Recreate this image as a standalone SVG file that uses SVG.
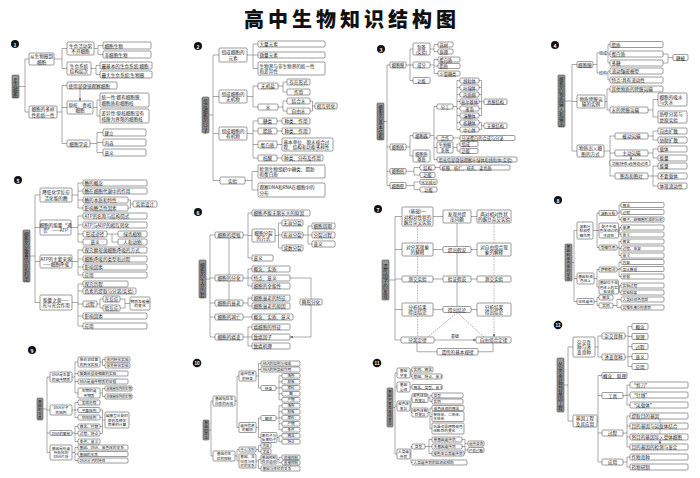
<svg xmlns="http://www.w3.org/2000/svg" width="700" height="478" viewBox="0 0 700 478">
<style>
text{font-family:"Noto Sans CJK SC","Noto Sans",sans-serif;font-size:4.6px;fill:#222;dominant-baseline:central;text-anchor:middle}
.n rect{fill:#fff;stroke:#4a4a4a;stroke-width:.55;rx:1.1px}
.L text{text-anchor:start}
.r rect{fill:#979797;stroke:#444;stroke-width:.55;rx:1px}
.r text{font-size:4.8px;fill:#151515}
.s3 text{font-size:4.2px}
.s8 text,.s9 text,.s11 text{font-size:3.7px}
.s10 text{font-size:3.6px}
#links path{fill:none;stroke:#555;stroke-width:.5}
#links .dot{stroke-dasharray:.8 .8}
#links .dash{stroke-dasharray:1.5 1}
.title{font-size:20px;font-weight:900;letter-spacing:4px;fill:#111}
.num circle{fill:#111}
.num text{fill:#fff;font-size:5px;font-weight:700}
.lab{font-size:4px}
</style>
<defs>
<marker id="ah" viewBox="0 0 6 6" refX="5.5" refY="3" markerWidth="2.6" markerHeight="2.6" markerUnits="userSpaceOnUse" orient="auto"><path d="M0 0L6 3L0 6z" fill="#555"/></marker>
</defs>
<rect width="700" height="478" fill="#fff"/>
<text class="title" x="352" y="18">高中生物知识结构图</text>

<g class="num">
<g id="num1"><circle cx="15" cy="44" r="4"/><text x="15" y="44">1</text></g>
<g id="num2"><circle cx="198" cy="46" r="4"/><text x="198" y="46">2</text></g>
<g id="num3"><circle cx="381" cy="49" r="4"/><text x="381" y="49">3</text></g>
<g id="num4"><circle cx="555" cy="45" r="4"/><text x="555" y="45">4</text></g>
<g id="num5"><circle cx="18" cy="180" r="4"/><text x="18" y="180">5</text></g>
<g id="num6"><circle cx="198" cy="212" r="4"/><text x="198" y="212">6</text></g>
<g id="num7"><circle cx="378" cy="209" r="4"/><text x="378" y="209">7</text></g>
<g id="num8"><circle cx="558" cy="200" r="4"/><text x="558" y="200">8</text></g>
<g id="num9"><circle cx="32" cy="350" r="4"/><text x="32" y="350">9</text></g>
<g id="num10"><circle cx="197" cy="363" r="4.3"/><text x="197" y="363" style="font-size:4.3px">10</text></g>
<g id="num11"><circle cx="377" cy="363" r="4.3"/><text x="377" y="363" style="font-size:4.3px">11</text></g>
<g id="num12"><circle cx="558" cy="325" r="4.3"/><text x="558" y="325" style="font-size:4.3px">12</text></g>
</g>

<g id="links">
<path d="M19 86.5H25M25 59V112M25 59H29M25 112H29M54 59H62M62 48.5V68.5M62 48.5H67M62 68.5H67M94 48.5H98M98 45.5V54.5M98 45.5H103M98 54.5H103M91 68.5H96M96 65.5V74.5M96 65.5H100M96 74.5H100M57 112H62M62 85.5V143.5M62 85.5H67M62 107.5H67M62 143.5H67M93 107.5H97M97 100V116M97 100H100M97 116H100M90 143.5H97M97 132.5V152.5M97 132.5H103M97 142.5H103M97 152.5H103"/>
<path d="M80 89V100.7" marker-end="url(#ah)"/>
<path d="M209 115H213M213 55V180.5M213 55H219M213 96.5H219M213 133.5H219M213 180.5H220M247 55H253M253 44V68.5M253 44H258M253 55H258M253 68.5H258M247 96.5H253M253 86V107M253 86H258M253 107H258M278 86H283M283 82V92M283 82H287M283 92H287M278 107H283M283 101V111M283 101H287M283 111H287M310 101H312.5M310 111H312.5M312.5 101V111M312.5 106H315M247 133.5H253M253 121V158M253 121H258M253 131H258M253 144.5H258M253 158H258M277 121H282M277 131H282M277 144.5H282M277 158H282M245 180.5H252M252 171.5V190M252 171.5H258M252 190H258"/>
<path d="M384 121.5H387M387 65V185.5M387 65H390M387 147H390M387 171.25H390M387 185.5H390M406 65H410M410 49V80.5M410 49H413M410 65H413M410 80.5H413M430 49H434M434 44.5V51.5M434 44.5H438M434 51.5H438M430 65H434M434 59.5V73.5M434 59.5H438M434 66H438M434 73.5H438M406 147H410M410 135.5V156M410 135.5H413M410 156H413M430 135.5H434M434 106.5V159.5M434 106.5H437M434 138H437M434 147.5H437M434 159.5H437M453 106.5H457M457 80.5V129.5M457 80.5H460M457 87.5H460M457 94.5H460M457 101.5H460M457 108.5H460M457 115.5H460M457 122.5H460M457 129.5H460M479 80.5H481.5M479 87.5H481.5M479 94.5H481.5M479 101.5H481.5M479 108.5H481.5M479 115.5H481.5M481.5 80.5V115.5M481.5 101.75H484M479 122.5H481.5M479 129.5H481.5M481.5 122.5V129.5M481.5 125.75H484M453 138H460M453 147.5H457M457 144V151M457 144H460M457 151H460M406 171.25H414M414 167.5V175M414 167.5H420M414 175H420M435 167.5H440M406 185.5H414M414 182V189.5M414 182H420M414 189.5H420"/>
<path d="M565 101H572M572 64.5V151M572 64.5H577M572 101.5H577M572 151H577M593 64.5H597M597 52.8V73M597 52.8H599M597 73H599M607 52.8H608M608 44.5V63M608 44.5H610M608 54H610M608 63H610M607 73H608M608 71V80M608 71H610M608 80H610M663 54H668M663 63H668M668 54V63M668 57.5H673M605 101.5H607M607 89V110M607 89H610M607 110H610M648 110H653M653 99.5V117M653 99.5H658M653 117H658M604 151H610M610 136V176M610 136H615M610 153H615M610 176H615M648 136H653M653 131V140M653 131H658M653 140H658M648 153H653M653 149V158M653 149H658M653 158H658M648 176H653M653 166V186M653 166H658M653 176H658M653 186H658"/>
<path d="M631 156V159.8" marker-end="url(#ah)"/>
<path d="M30 256H35M35 195V302.5M35 195H40M35 227.5H40M35 261.5H40M35 302.5H40M72 195H78M78 183V208M78 183H83M78 191H83M78 200H83M78 208H83M128 200H130.5M128 208H130.5M130.5 200V208M130.5 204H133M71 227.5H78M78 216V242M78 216H83M78 225H83M78 234H83M78 242H83M107 234H112M112 234V242M112 234H118M112 242H118M72 261.5H78M78 250V275M78 250H83M78 259H83M78 267H83M78 275H83M72 302.5H78M78 284V326M78 284H83M78 291H83M78 304H83M78 316H83M78 326H83M97 304H100M100 299V308M100 299H103M100 308H103M120 299H125M120 308H125M125 299V308M125 303.5H130"/>
<path d="M206 279H210M210 235V337M210 235H215M210 278H215M210 303H215M210 317H215M210 337H215M243 235H248M248 213V258M248 213H252M248 235.5H252M248 258H252M275 235.5H278.5M278.5 223V248M278.5 223H282M278.5 235H282M278.5 248H282M303 235H308M308 226V244M308 226H312M308 235H312M308 244H312M243 278H248M248 269V286M248 269H252M248 278H252M248 286H252M243 303H248M248 298V306M248 298H252M248 306H252M243 317H252M243 337H248M248 327V346M248 327H252M248 337H252M248 346H252M290 278H311V299"/>
<path d="M229 238V274.8M229 281V299.8M311 305V337H290.4" marker-end="url(#ah)"/>
<path d="M389 280H395M395 216.5V340M395 216.5H402M395 249.5H402M395 279H402M395 309.5H402M395 340H401M433 216.5H443M471 216.5H477M433 249.5H443M471 249.5H477M433 279H443M471 279H477M433 309.5H443M471 309.5H477M417 343V351.75H437M493 343V351.75H478"/>
<path d="M457 223V246.2M457 252.5V275.7M457 282V306.2M434 340H475.7" marker-end="url(#ah)"/>
<path class="dot" d="M417.5 226V242.7M417.5 256V275.7M417.5 282V302.7M417.5 316V336.7M494 223V242.7M494 256V275.7M494 282V302.7M494 316V336.7" marker-end="url(#ah)"/>
<path class="dash" d="M457 312.5L428 337M457 312.5L484 337"/>
<path d="M572 262.5H574M574 230.5V301.5M574 230.5H577M574 278.5H577M574 301.5H577M593 230.5H597M597 213V247.5M597 213H599M597 230.5H599M597 247.5H599M617 213H619M619 205V219.5M619 205H621M619 212H621M619 219.5H621M618.5 230.5H619.5M619.5 227.5V234.5M619.5 227.5H621M619.5 234.5H621M617 247.5H619M619 241.5V255.5M619 241.5H621M619 248.5H621M619 255.5H621M594 278.5H597M597 269.5V287M597 269.5H599M597 287H599M617 269.5H619M619 262V276.5M619 262H621M619 269H621M619 276.5H621M618.5 287H619.5M619.5 285.5V292.5M619.5 285.5H621M619.5 292.5H621M594 301.5H597M597 297.5V305.5M597 297.5H599M597 305.5H599M613 305.5H617M617 299.5V307.5M617 299.5H621M617 307.5H621"/>
<path d="M43 409H47M47 377V452.5M47 377H50M47 410H50M47 433H50M47 452.5H50M72 377H75M75 362V393M75 362H78M75 373.5H78M75 381.5H78M75 393H78M100 362H102.5M102.5 359.5V365.5M102.5 359.5H105M102.5 365.5H105M100 393H102.5M102.5 388.5V396.5M102.5 388.5H105M102.5 396.5H105M72 410H75M75 402.5V417.5M75 402.5H78M75 410H78M75 417.5H78M100 410H102.5M100 417.5H102.5M100 426.5H102.5M100 433.5H102.5M102.5 410V433.5M102.5 420H105M72 433H75M75 426.5V441.5M75 426.5H78M75 433.5H78M75 441.5H78M72 452.5H75M75 447.5V460.5M75 447.5H78M75 454H78M75 460.5H78"/>
<path d="M209 430H211M211 401V456M211 401H213M211 456H213M235 401H237M237 376V427.5M237 376H239M237 427.5H239M256 376H258.5M258.5 363.5V388M258.5 363.5H261M258.5 369.5H261M258.5 388H261M276 388H279M279 375.75V399.75M279 375.75H282M279 381.75H282M279 387.75H282M279 393.75H282M279 399.75H282M256 427.5H258.5M258.5 418V437.5M258.5 418H261M258.5 437.5H261M276 418H279M279 405.75V429.75M279 405.75H282M279 411.75H282M279 417.75H282M279 423.75H282M279 429.75H282M277 437.5H279M279 435.75V441.75M279 435.75H282M279 441.75H282M235 456H237M237 449.5V461M237 449.5H239M237 461H239M256 449.5H258.5M258.5 445.5V451.5M258.5 445.5H261M258.5 451.5H261M256 461H258.5M258.5 459.5V468.5M258.5 459.5H261M258.5 468.5H261M277 459.5H279M279 457.25V462.75M279 457.25H282M279 462.75H282"/>
<path d="M393 407.5H395M395 373V454M395 373H397M395 387H397M395 406H397M395 454H397M410 373H411M411 369.5V376.5M411 369.5H412M411 376.5H412M410 387H412M410 406H411M411 398V412.5M411 398H412M411 412.5H412M428 398H430M430 395.5V401.5M430 395.5H432M430 401.5H432M428 412.5H430M430 408V428.5M430 408H432M430 416.5H432M430 428.5H432M410 454H411M411 446.5V462.5M411 446.5H412M411 462.5H412M425 446.5H429M429 439.5V453.5M429 439.5H432M429 446.5H432M429 453.5H432M462 439.5H465M462 446.5H465M464 453.5H465M465 439.5V453.5M465 443.5H468M465 450H468"/>
<path d="M564 385H568M568 347V421M568 347H573M568 421H573M595 347H598M598 336V357M598 336H602M598 357H602M625 336H628M625 357H628M628 326.5V366.5M628 326.5H632M628 336.5H632M628 346.5H632M628 356.5H632M628 366.5H632M597 421H598M598 375.5V462M598 375.5H602M598 395.5H602M598 433H602M598 462H602M623 395.5H627M627 385V405M627 385H630M627 395H630M627 405H630M623 433H627M627 416V447M627 416H630M627 426H630M627 437H630M627 447H630M623 462H627M627 457V467M627 457H630M627 467H630"/>
<path d="M660 419V422.8M660 429V433.8M660 440V443.8" marker-end="url(#ah)"/>
</g>

<g id="sec1">
<g id="s1-root" class="r"><rect x="12" y="75" width="7" height="23"/><text x="15.5 15.5 15.5 15.5" y="79 84 89 94">走近细胞</text></g>
<g id="s1-a" class="n" transform="translate(29 53)"><rect width="25" height="12"/><text x="12.5" y="3.4">从生物圈到</text><text x="12.5" y="8.6">细胞</text></g>
<g id="s1-b" class="n" transform="translate(29 106)"><rect width="28" height="12"/><text x="14" y="3.4">细胞的多样</text><text x="14" y="8.6">性和统一性</text></g>
<g id="s1-a1" class="n" transform="translate(67 42)"><rect width="27" height="13"/><text x="13.5" y="3.9">生命活动离</text><text x="13.5" y="9.1">不开细胞</text></g>
<g id="s1-a2" class="n" transform="translate(67 62)"><rect width="24" height="13"/><text x="12" y="3.9">生命系统</text><text x="12" y="9.1">结构层次</text></g>
<g id="s1-a1a" class="n L" transform="translate(103 42)"><rect width="48" height="7"/><text x="1.5" y="3.5">细胞生物</text></g>
<g id="s1-a1b" class="n L" transform="translate(103 51)"><rect width="48" height="7"/><text x="1.5" y="3.5">非细胞生物</text></g>
<g id="s1-a2a" class="n L" transform="translate(100 62)"><rect width="52" height="7"/><text x="1.5" y="3.5">最基本的生命系统:细胞</text></g>
<g id="s1-a2b" class="n L" transform="translate(100 71)"><rect width="52" height="7"/><text x="1.5" y="3.5">最大生命系统:生物圈</text></g>
<g id="s1-b1" class="n L" transform="translate(67 82)"><rect width="50" height="7"/><text x="1.5" y="3.5">使用显微镜观察细胞</text></g>
<g id="s1-b2" class="n" transform="translate(67 101)"><rect width="26" height="13"/><text x="13" y="3.9">原核、真核</text><text x="13" y="9.1">细胞</text></g>
<g id="s1-b2a" class="n L" transform="translate(100 93)"><rect width="49" height="14"/><text x="1.5" y="4.4">统一性:都有细胞膜、</text><text x="1.5" y="9.6">细胞质和细胞核</text></g>
<g id="s1-b2b" class="n L" transform="translate(100 109)"><rect width="49" height="14"/><text x="1.5" y="4.4">差异性:原核细胞没有</text><text x="1.5" y="9.6">核膜为界限的细胞核</text></g>
<g id="s1-b3" class="n" transform="translate(67 140)"><rect width="23" height="7"/><text x="11.5" y="3.5">细胞学说</text></g>
<g id="s1-b3a" class="n L" transform="translate(103 129)"><rect width="43" height="7"/><text x="1.5" y="3.5">建立</text></g>
<g id="s1-b3b" class="n L" transform="translate(103 139)"><rect width="43" height="7"/><text x="1.5" y="3.5">内容</text></g>
<g id="s1-b3c" class="n L" transform="translate(103 149)"><rect width="43" height="7"/><text x="1.5" y="3.5">意义</text></g>
</g>

<g id="sec2">
<g id="s2-root" class="r"><rect x="202" y="97" width="7" height="36"/><text x="205.5 205.5 205.5 205.5 205.5 205.5 205.5" y="100 105 110 115 120 125 130">组成细胞的分子</text></g>
<g id="s2-e" class="n" transform="translate(219 48)"><rect width="28" height="14"/><text x="14" y="4.4">组成细胞的</text><text x="14" y="9.6">元素</text></g>
<g id="s2-w" class="n" transform="translate(219 90)"><rect width="28" height="13"/><text x="14" y="3.9">组成细胞的</text><text x="14" y="9.1">无机物</text></g>
<g id="s2-o" class="n" transform="translate(219 127)"><rect width="28" height="13"/><text x="14" y="3.9">组成细胞的</text><text x="14" y="9.1">有机物</text></g>
<g id="s2-x" class="n" transform="translate(220 177)"><rect width="25" height="7"/><text x="12.5" y="3.5">实验</text></g>
<g id="s2-e1" class="n L" transform="translate(258 41)"><rect width="67" height="6"/><text x="1.5" y="3">大量元素</text></g>
<g id="s2-e2" class="n L" transform="translate(258 52)"><rect width="67" height="6"/><text x="1.5" y="3">微量元素</text></g>
<g id="s2-e3" class="n L" transform="translate(258 62)"><rect width="67" height="13"/><text x="1.5" y="3.9">生物界与非生物界的统一性</text><text x="1.5" y="9.1">和差异性</text></g>
<g id="s2-w1" class="n" transform="translate(258 83)"><rect width="20" height="6"/><text x="10" y="3">无机盐</text></g>
<g id="s2-w2" class="n" transform="translate(258 104)"><rect width="20" height="6"/><text x="10" y="3">水</text></g>
<g id="s2-w1a" class="n" transform="translate(287 79)"><rect width="23" height="6"/><text x="11.5" y="3">存在形式</text></g>
<g id="s2-w1b" class="n" transform="translate(287 89)"><rect width="23" height="6"/><text x="11.5" y="3">作用</text></g>
<g id="s2-w2a" class="n" transform="translate(287 98)"><rect width="23" height="6"/><text x="11.5" y="3">结合水</text></g>
<g id="s2-w2b" class="n" transform="translate(287 108)"><rect width="23" height="6"/><text x="11.5" y="3">自由水</text></g>
<g id="s2-w3" class="n" transform="translate(315 103)"><rect width="22" height="6"/><text x="11" y="3">相互转化</text></g>
<g id="s2-o1" class="n" transform="translate(258 118)"><rect width="19" height="6"/><text x="9.5" y="3">糖类</text></g>
<g id="s2-o1a" class="n" transform="translate(282 118)"><rect width="28" height="6"/><text x="14" y="3">种类、作用</text></g>
<g id="s2-o2" class="n" transform="translate(258 128)"><rect width="19" height="6"/><text x="9.5" y="3">脂质</text></g>
<g id="s2-o2a" class="n" transform="translate(282 128)"><rect width="28" height="6"/><text x="14" y="3">种类、作用</text></g>
<g id="s2-o3" class="n" transform="translate(258 141)"><rect width="19" height="7"/><text x="9.5" y="3.5">蛋白质</text></g>
<g id="s2-o3a" class="n L" transform="translate(282 138)"><rect width="51" height="13"/><text x="1.5" y="3.9">基本单位、脱水缩合过</text><text x="1.5" y="9.1">程、结构和功能多样性</text></g>
<g id="s2-o4" class="n" transform="translate(258 155)"><rect width="19" height="6"/><text x="9.5" y="3">核酸</text></g>
<g id="s2-o4a" class="n" transform="translate(282 155)"><rect width="41" height="6"/><text x="20.5" y="3">种类、分布及作用</text></g>
<g id="s2-x1" class="n L" transform="translate(258 165)"><rect width="67" height="13"/><text x="1.5" y="3.9">检测生物组织中糖类、脂肪</text><text x="1.5" y="9.1">和蛋白质</text></g>
<g id="s2-x2" class="n L" transform="translate(258 183)"><rect width="67" height="14"/><text x="1.5" y="4.4">观察DNA和RNA在细胞中的</text><text x="1.5" y="9.6">分布</text></g>
</g>

<g id="sec3" class="s3">
<g id="s3-root" class="r"><rect x="377" y="103" width="7" height="37"/><text x="380.5 380.5 380.5 380.5 380.5 380.5 380.5" y="106.5 111.5 116.5 121.5 126.5 131.5 136.5">细胞的基本结构</text></g>
<g id="s3-m" class="n" transform="translate(390 62)"><rect width="16" height="6"/><text x="8" y="3">细胞膜</text></g>
<g id="s3-c" class="n" transform="translate(390 144)"><rect width="16" height="6"/><text x="8" y="3">细胞质</text></g>
<g id="s3-n" class="n" transform="translate(390 168.5)"><rect width="16" height="5.5"/><text x="8" y="2.75">细胞核</text></g>
<g id="s3-wl" class="n" transform="translate(390 182.5)"><rect width="16" height="6"/><text x="8" y="3">细胞壁</text></g>
<g id="s3-m1" class="n" transform="translate(413 43)"><rect width="17" height="12"/><text x="8.5" y="3.5">制备</text><text x="8.5" y="8.5">(实验)</text></g>
<g id="s3-m2" class="n" transform="translate(413 62)"><rect width="17" height="6"/><text x="8.5" y="3">成分</text></g>
<g id="s3-m3" class="n" transform="translate(413 77.5)"><rect width="17" height="6"/><text x="8.5" y="3">功能</text></g>
<g id="s3-m1a" class="n L" transform="translate(438 42)"><rect width="15" height="5"/><text x="1.5" y="2.5">选材</text></g>
<g id="s3-m1b" class="n L" transform="translate(438 49)"><rect width="15" height="5"/><text x="1.5" y="2.5">原理</text></g>
<g id="s3-m2a" class="n L" transform="translate(438 57)"><rect width="22" height="5"/><text x="1.5" y="2.5">蛋白质</text></g>
<g id="s3-m2b" class="n L" transform="translate(438 63.5)"><rect width="22" height="5"/><text x="1.5" y="2.5">脂质</text></g>
<g id="s3-m2c" class="n L" transform="translate(438 71)"><rect width="22" height="5"/><text x="1.5" y="2.5">少量糖类</text></g>
<g id="s3-c1" class="n" transform="translate(413 133)"><rect width="17" height="5"/><text x="8.5" y="2.5">细胞器</text></g>
<g id="s3-c2" class="n" transform="translate(413 150)"><rect width="17" height="12"/><text x="8.5" y="3.5">细胞质</text><text x="8.5" y="8.5">基质</text></g>
<g id="s3-d1" class="n" transform="translate(437 104)"><rect width="16" height="5"/><text x="8" y="2.5">分工</text></g>
<g id="s3-d2" class="n" transform="translate(437 135.5)"><rect width="16" height="5"/><text x="8" y="2.5">合作</text></g>
<g id="s3-d3" class="n" transform="translate(437 142)"><rect width="16" height="11"/><text x="8" y="3">生物膜</text><text x="8" y="8">系统</text></g>
<g id="s3-d4" class="n L" transform="translate(437 157)"><rect width="80" height="5"/><text x="1.5" y="2.5">用高倍显微镜观察叶绿体和线粒体(实验)</text></g>
<g id="s3-o1" class="n" transform="translate(460 78)"><rect width="19" height="5"/><text x="9.5" y="2.5">线粒体</text></g>
<g id="s3-o2" class="n" transform="translate(460 85)"><rect width="19" height="5"/><text x="9.5" y="2.5">叶绿体</text></g>
<g id="s3-o3" class="n" transform="translate(460 92)"><rect width="19" height="5"/><text x="9.5" y="2.5">内质网</text></g>
<g id="s3-o4" class="n" transform="translate(460 99)"><rect width="19" height="5"/><text x="9.5" y="2.5">高尔基体</text></g>
<g id="s3-o5" class="n" transform="translate(460 106)"><rect width="19" height="5"/><text x="9.5" y="2.5">液泡</text></g>
<g id="s3-o6" class="n" transform="translate(460 113)"><rect width="19" height="5"/><text x="9.5" y="2.5">溶酶体</text></g>
<g id="s3-o7" class="n" transform="translate(460 120)"><rect width="19" height="5"/><text x="9.5" y="2.5">核糖体</text></g>
<g id="s3-o8" class="n" transform="translate(460 127)"><rect width="19" height="5"/><text x="9.5" y="2.5">中心体</text></g>
<g id="s3-mem" class="n" transform="translate(484 99)"><rect width="23" height="5.5"/><text x="11.5" y="2.75">具膜结构</text></g>
<g id="s3-nom" class="n" transform="translate(484 123)"><rect width="23" height="5.5"/><text x="11.5" y="2.75">无膜结构</text></g>
<g id="s3-d2a" class="n L" transform="translate(460 135.5)"><rect width="55" height="5"/><text x="1.5" y="2.5">分泌蛋白的合成与分泌</text></g>
<g id="s3-d3a" class="n L" transform="translate(460 141.5)"><rect width="18" height="5"/><text x="1.5" y="2.5">组成</text></g>
<g id="s3-d3b" class="n L" transform="translate(460 148.5)"><rect width="18" height="5"/><text x="1.5" y="2.5">功能</text></g>
<g id="s3-n1" class="n" transform="translate(420 165)"><rect width="15" height="5"/><text x="7.5" y="2.5">结构</text></g>
<g id="s3-n2" class="n" transform="translate(420 172.5)"><rect width="15" height="5"/><text x="7.5" y="2.5">功能</text></g>
<g id="s3-n1a" class="n L" transform="translate(440 165)"><rect width="70" height="5"/><text x="1.5" y="2.5">核膜、核仁、核孔、染色质</text></g>
<g id="s3-w1" class="n" transform="translate(420 179.5)"><rect width="17" height="5"/><text x="8.5" y="2.5" style="font-size:3.8px">化学成分</text></g>
<g id="s3-w2" class="n" transform="translate(420 187)"><rect width="17" height="5"/><text x="8.5" y="2.5">功能</text></g>
</g>

<g id="sec4">
<g id="s4-root" class="r"><rect x="558" y="75" width="7" height="52"/><text x="561.5 561.5 561.5 561.5 561.5 561.5 561.5 561.5 561.5 561.5" y="78.5 83.5 88.5 93.5 98.5 103.5 108.5 113.5 118.5 123.5">细胞的物质输入和输出</text></g>
<g id="s4-p" class="n" transform="translate(577 61.5)"><rect width="16" height="6"/><text x="8" y="3">细胞膜</text></g>
<g id="s4-q" class="n" transform="translate(577 95)"><rect width="28" height="13"/><text x="14" y="3.9">物质跨膜运</text><text x="14" y="9.1">输的实例</text></g>
<g id="s4-s" class="n" transform="translate(577 145)"><rect width="27" height="12"/><text x="13.5" y="3.4">物质出入细</text><text x="13.5" y="8.6">胞的方式</text></g>
<g id="s4-labels"><text class="lab" x="603" y="52.8">组成</text><text class="lab" x="603" y="73">结构</text></g>
<g id="s4-p1" class="n L" transform="translate(610 41.5)"><rect width="53" height="6"/><text x="1.5" y="3">脂质</text></g>
<g id="s4-p2" class="n L" transform="translate(610 51)"><rect width="53" height="6"/><text x="1.5" y="3">蛋白质</text></g>
<g id="s4-p3" class="n L" transform="translate(610 60)"><rect width="53" height="6"/><text x="1.5" y="3">多糖</text></g>
<g id="s4-p4" class="n L" transform="translate(610 68)"><rect width="53" height="6"/><text x="1.5" y="3">流动镶嵌模型</text></g>
<g id="s4-p5" class="n L" transform="translate(610 77)"><rect width="53" height="6"/><text x="1.5" y="3">特点:具有流动性</text></g>
<g id="s4-gly" class="n" transform="translate(673 54.5)"><rect width="15" height="6"/><text x="7.5" y="3">糖被</text></g>
<g id="s4-q1" class="n L" transform="translate(610 86)"><rect width="53" height="6"/><text x="1.5" y="3">其他物质的跨膜运输</text></g>
<g id="s4-q2" class="n L" transform="translate(610 107)"><rect width="38" height="6"/><text x="1.5" y="3">水的跨膜运输</text></g>
<g id="s4-q2a" class="n L" transform="translate(658 93)"><rect width="29" height="13"/><text x="1.5" y="3.9">细胞的吸水</text><text x="1.5" y="9.1">与失水</text></g>
<g id="s4-q2b" class="n L" transform="translate(658 111)"><rect width="29" height="12"/><text x="1.5" y="3.4">质壁分离与</text><text x="1.5" y="8.6">复原实验</text></g>
<g id="s4-s1" class="n" transform="translate(615 133)"><rect width="33" height="6"/><text x="16.5" y="3">被动运输</text></g>
<g id="s4-s2" class="n" transform="translate(615 150)"><rect width="33" height="6"/><text x="16.5" y="3">主动运输</text></g>
<g id="s4-s3" class="n" transform="translate(610 160)"><rect width="40" height="6"/><text x="20" y="3" style="font-size:3.9px">功能特性:选择透过性</text></g>
<g id="s4-s4" class="n" transform="translate(615 173)"><rect width="33" height="6"/><text x="16.5" y="3">胞吞和胞吐</text></g>
<g id="s4-s1a" class="n L" transform="translate(658 128)"><rect width="29" height="6"/><text x="1.5" y="3">自由扩散</text></g>
<g id="s4-s1b" class="n L" transform="translate(658 137)"><rect width="29" height="6"/><text x="1.5" y="3">协助扩散</text></g>
<g id="s4-s2a" class="n L" transform="translate(658 146)"><rect width="29" height="6"/><text x="1.5" y="3">载体</text></g>
<g id="s4-s2b" class="n L" transform="translate(658 155)"><rect width="29" height="6"/><text x="1.5" y="3">能量</text></g>
<g id="s4-s4a" class="n L" transform="translate(658 163)"><rect width="29" height="6"/><text x="1.5" y="3">能量</text></g>
<g id="s4-s4b" class="n L" transform="translate(658 173)"><rect width="29" height="6"/><text x="1.5" y="3">不要载体</text></g>
<g id="s4-s4c" class="n L" transform="translate(658 183)"><rect width="29" height="6"/><text x="1.5" y="3">体现流动性</text></g>
</g>

<g id="sec5">
<g id="s5-root" class="r"><rect x="23" y="230" width="7" height="52"/><text x="26.5 26.5 26.5 26.5 26.5 26.5 26.5 26.5 26.5 26.5" y="233.5 238.5 243.5 248.5 253.5 258.5 263.5 268.5 273.5 278.5">细胞的能量供应和利用</text></g>
<g id="s5-A" class="n" transform="translate(40 188)"><rect width="32" height="14"/><text x="16" y="4.4">降低化学反应</text><text x="16" y="9.6">活化能的酶</text></g>
<g id="s5-B" class="n" transform="translate(40 220)"><rect width="31" height="15"/><text x="15.5" y="4.9">细胞的能量“通</text><text x="15.5" y="10.1">货”——ATP</text></g>
<g id="s5-C" class="n" transform="translate(40 255)"><rect width="32" height="13"/><text x="16" y="3.9">ATP的主要来源</text><text x="16" y="9.1">——细胞呼吸</text></g>
<g id="s5-D" class="n" transform="translate(40 295)"><rect width="32" height="15"/><text x="16" y="4.9">能量之源——</text><text x="16" y="10.1">光与光合作用</text></g>
<g id="s5-A1" class="n L" transform="translate(83 180)"><rect width="64" height="6"/><text x="1.5" y="3">酶的概念</text></g>
<g id="s5-A2" class="n L" transform="translate(83 188)"><rect width="64" height="6"/><text x="1.5" y="3">酶在细胞代谢中的作用</text></g>
<g id="s5-A3" class="n L" transform="translate(83 197)"><rect width="45" height="6"/><text x="1.5" y="3">酶的本质和特性</text></g>
<g id="s5-A4" class="n L" transform="translate(83 205)"><rect width="45" height="6"/><text x="1.5" y="3">影响酶活性因素</text></g>
<g id="s5-A5" class="n" transform="translate(133 201)"><rect width="24" height="6"/><text x="12" y="3">实验设计</text></g>
<g id="s5-B1" class="n L" transform="translate(83 213)"><rect width="64" height="6"/><text x="1.5" y="3">ATP的名称与结构简式</text></g>
<g id="s5-B2" class="n L" transform="translate(83 222)"><rect width="64" height="6"/><text x="1.5" y="3">ATP与ADP的相互转化</text></g>
<g id="s5-B3" class="n" transform="translate(83 231)"><rect width="24" height="6"/><text x="12" y="3">形成途径</text></g>
<g id="s5-B4" class="n" transform="translate(83 239)"><rect width="24" height="6"/><text x="12" y="3">意义</text></g>
<g id="s5-B3a" class="n" transform="translate(118 231)"><rect width="29" height="6"/><text x="14.5" y="3">绿色植物</text></g>
<g id="s5-B3b" class="n" transform="translate(118 239)"><rect width="29" height="6"/><text x="14.5" y="3">人和动物</text></g>
<g id="s5-C1" class="n L" transform="translate(83 247)"><rect width="64" height="6"/><text x="1.5" y="3">探究酵母菌细胞呼吸的方式</text></g>
<g id="s5-C2" class="n L" transform="translate(83 256)"><rect width="64" height="6"/><text x="1.5" y="3">细胞呼吸的类型和过程</text></g>
<g id="s5-C3" class="n L" transform="translate(83 264)"><rect width="64" height="6"/><text x="1.5" y="3">影响因素</text></g>
<g id="s5-C4" class="n L" transform="translate(83 272)"><rect width="64" height="6"/><text x="1.5" y="3">应用</text></g>
<g id="s5-D1" class="n L" transform="translate(83 281)"><rect width="45" height="6"/><text x="1.5" y="3">探究历程</text></g>
<g id="s5-D2" class="n L" transform="translate(83 288)"><rect width="53" height="6"/><text x="1.5" y="3">色素的提取与分离(实验)</text></g>
<g id="s5-D3" class="n" transform="translate(83 301)"><rect width="14" height="6"/><text x="7" y="3">过程</text></g>
<g id="s5-D3a" class="n" transform="translate(103 296)"><rect width="17" height="6"/><text x="8.5" y="3">光反应</text></g>
<g id="s5-D3b" class="n" transform="translate(103 305)"><rect width="17" height="6"/><text x="8.5" y="3">暗反应</text></g>
<g id="s5-D3c" class="n" transform="translate(130 297)"><rect width="20" height="13"/><text x="10" y="4.1" style="font-size:3.8px">物质及能量</text><text x="10" y="8.9" style="font-size:3.8px">的变化</text></g>
<g id="s5-D4" class="n L" transform="translate(83 313)"><rect width="64" height="6"/><text x="1.5" y="3">影响因素</text></g>
<g id="s5-D5" class="n L" transform="translate(83 323)"><rect width="64" height="6"/><text x="1.5" y="3">应用</text></g>
</g>

<g id="sec6">
<g id="s6-root" class="r"><rect x="199" y="260" width="7" height="38"/><text x="202.5 202.5 202.5 202.5 202.5 202.5 202.5" y="264 269 274 279 284 289 294">细胞的生命历程</text></g>
<g id="s6-g" class="n" transform="translate(215 232)"><rect width="28" height="6"/><text x="14" y="3">细胞的增殖</text></g>
<g id="s6-f" class="n" transform="translate(215 275)"><rect width="28" height="6"/><text x="14" y="3">细胞的分化</text></g>
<g id="s6-a" class="n" transform="translate(215 300)"><rect width="28" height="6"/><text x="14" y="3">细胞的衰老</text></g>
<g id="s6-d" class="n" transform="translate(215 314)"><rect width="28" height="6"/><text x="14" y="3">细胞的凋亡</text></g>
<g id="s6-k" class="n" transform="translate(215 334)"><rect width="28" height="6"/><text x="14" y="3">细胞的癌变</text></g>
<g id="s6-g1" class="n L" transform="translate(252 210)"><rect width="58" height="6"/><text x="1.5" y="3">细胞不能无限长大的原因</text></g>
<g id="s6-g2" class="n" transform="translate(252 229)"><rect width="23" height="13"/><text x="11.5" y="3.9">细胞分裂</text><text x="11.5" y="9.1">的方式</text></g>
<g id="s6-g3" class="n L" transform="translate(252 255)"><rect width="21" height="6"/><text x="1.5" y="3">意义</text></g>
<g id="s6-g2a" class="n" transform="translate(282 220)"><rect width="21" height="6"/><text x="10.5" y="3">无丝分裂</text></g>
<g id="s6-g2b" class="n" transform="translate(282 232)"><rect width="21" height="6"/><text x="10.5" y="3">有丝分裂</text></g>
<g id="s6-g2c" class="n" transform="translate(282 245)"><rect width="21" height="6"/><text x="10.5" y="3">减数分裂</text></g>
<g id="s6-m1" class="n L" transform="translate(312 223)"><rect width="23" height="6"/><text x="1.5" y="3">细胞周期</text></g>
<g id="s6-m2" class="n L" transform="translate(312 232)"><rect width="23" height="6"/><text x="1.5" y="3">分裂过程</text></g>
<g id="s6-m3" class="n L" transform="translate(312 241)"><rect width="23" height="6"/><text x="1.5" y="3">意义</text></g>
<g id="s6-f1" class="n L" transform="translate(252 266)"><rect width="38" height="6"/><text x="1.5" y="3">概念、实质</text></g>
<g id="s6-f2" class="n L" transform="translate(252 275)"><rect width="38" height="6"/><text x="1.5" y="3">特点、意义</text></g>
<g id="s6-f3" class="n L" transform="translate(252 283)"><rect width="38" height="6"/><text x="1.5" y="3">细胞的全能性</text></g>
<g id="s6-a1" class="n L" transform="translate(252 295)"><rect width="38" height="6"/><text x="1.5" y="3">细胞衰老的特征</text></g>
<g id="s6-a2" class="n L" transform="translate(252 303)"><rect width="38" height="6"/><text x="1.5" y="3">细胞衰老的原因</text></g>
<g id="s6-d1" class="n L" transform="translate(252 314)"><rect width="41" height="6"/><text x="1.5" y="3">概念、实质、意义</text></g>
<g id="s6-k1" class="n L" transform="translate(252 324)"><rect width="38" height="6"/><text x="1.5" y="3">癌细胞的特征</text></g>
<g id="s6-k2" class="n L" transform="translate(252 334)"><rect width="38" height="6"/><text x="1.5" y="3">致癌因子</text></g>
<g id="s6-k3" class="n L" transform="translate(252 343)"><rect width="38" height="6"/><text x="1.5" y="3">致癌机理</text></g>
<g id="s6-j" class="n" transform="translate(300 299)"><rect width="22" height="6"/><text x="11" y="3">畸形分化</text></g>
</g>

<g id="sec7">
<g id="s7-root" class="r"><rect x="382" y="260" width="7" height="40"/><text x="385.5 385.5 385.5 385.5 385.5 385.5 385.5" y="265 270 275 280 285 290 295">遗传因子的发现</text></g>
<g id="s7-c1r1" class="n" transform="translate(402 207)"><rect width="31" height="19"/><text x="15.5" y="4.3">(基础)一</text><text x="15.5" y="9.5">对相对性状的</text><text x="15.5" y="14.7">豌豆杂交实验</text></g>
<g id="s7-c2r1" class="n" transform="translate(443 210)"><rect width="28" height="13"/><text x="14" y="3.9">发现并提</text><text x="14" y="9.1">出问题</text></g>
<g id="s7-c3r1" class="n" transform="translate(477 210)"><rect width="34" height="13"/><text x="17" y="3.9">两对相对性状</text><text x="17" y="9.1">的豌豆杂交实验</text></g>
<g id="s7-c1r2" class="n" transform="translate(402 243)"><rect width="31" height="13"/><text x="15.5" y="3.9">对分离现象</text><text x="15.5" y="9.1">的解释</text></g>
<g id="s7-c2r2" class="n" transform="translate(443 246.5)"><rect width="28" height="6"/><text x="14" y="3">提出假说</text></g>
<g id="s7-c3r2" class="n" transform="translate(477 243)"><rect width="34" height="13"/><text x="17" y="3.9">对自由组合现</text><text x="17" y="9.1">象的解释</text></g>
<g id="s7-c1r3" class="n" transform="translate(402 276)"><rect width="31" height="6"/><text x="15.5" y="3">测交实验</text></g>
<g id="s7-c2r3" class="n" transform="translate(443 276)"><rect width="28" height="6"/><text x="14" y="3">验证假说</text></g>
<g id="s7-c3r3" class="n" transform="translate(477 276)"><rect width="34" height="6"/><text x="17" y="3">测交实验</text></g>
<g id="s7-c1r4" class="n" transform="translate(402 303)"><rect width="31" height="13"/><text x="15.5" y="3.9">分析结果</text><text x="15.5" y="9.1">得出结论</text></g>
<g id="s7-c2r4" class="n" transform="translate(443 306.5)"><rect width="28" height="6"/><text x="14" y="3">得出结论</text></g>
<g id="s7-c3r4" class="n" transform="translate(477 303)"><rect width="34" height="13"/><text x="17" y="3.9">分析结果</text><text x="17" y="9.1">得出结论</text></g>
<g id="s7-sep" class="n" transform="translate(401 337)"><rect width="33" height="6"/><text x="16.5" y="3">分离定律</text></g>
<g id="s7-free" class="n" transform="translate(476 337)"><rect width="35" height="6"/><text x="17.5" y="3">自由组合定律</text></g>
<g id="s7-law" class="n" transform="translate(437 348.5)"><rect width="41" height="6.5"/><text x="20.5" y="3.25">遗传的基本规律</text></g>
<text class="lab" x="455" y="335.5">基础</text>
</g>

<g id="sec8" class="s8">
<g id="s8-root" class="r"><rect x="565" y="244" width="7" height="37"/><text style="font-size:3.8px" x="568.5 568.5 568.5 568.5 568.5 568.5 568.5 568.5 568.5" y="246.5 250.5 254.5 258.5 262.5 266.5 270.5 274.5 278.5">基因和染色体的关系</text></g>
<g id="s8-A" class="n" transform="translate(577 222)"><rect width="16" height="17"/><text x="8" y="4">减数分</text><text x="8" y="8.5">裂和受</text><text x="8" y="13">精作用</text></g>
<g id="s8-B" class="n" transform="translate(577 273)"><rect width="17" height="11"/><text x="8.5" y="3.25">基因在染</text><text x="8.5" y="7.75">色体上</text></g>
<g id="s8-C" class="n" transform="translate(577 298.5)"><rect width="17" height="6"/><text x="8.5" y="3">伴性遗传</text></g>
<g id="s8-A1" class="n" transform="translate(599 210.5)"><rect width="18" height="5"/><text x="9" y="2.5">减数分裂</text></g>
<g id="s8-A2" class="n" transform="translate(599 223)"><rect width="19.5" height="15"/><text x="9.75" y="3">配子中染</text><text x="9.75" y="7.5">色体组合的</text><text x="9.75" y="12">多样性</text></g>
<g id="s8-A3" class="n" transform="translate(599 245)"><rect width="18" height="5"/><text x="9" y="2.5">受精作用</text></g>
<g id="s8-A1a" class="n L" transform="translate(621 202.5)"><rect width="43" height="5"/><text x="1.5" y="2.5">概念</text></g>
<g id="s8-A1b" class="n L" transform="translate(621 209.5)"><rect width="43" height="5"/><text x="1.5" y="2.5">过程</text></g>
<g id="s8-A1c" class="n L" transform="translate(621 217)"><rect width="43" height="5"/><text x="1.5" y="2.5">精子、卵细胞形成的比较</text></g>
<g id="s8-A2a" class="n L" transform="translate(621 225)"><rect width="43" height="5"/><text x="1.5" y="2.5">来源</text></g>
<g id="s8-A2b" class="n L" transform="translate(621 232)"><rect width="43" height="5"/><text x="1.5" y="2.5">意义</text></g>
<g id="s8-A3a" class="n L" transform="translate(621 239)"><rect width="43" height="5"/><text x="1.5" y="2.5">概念</text></g>
<g id="s8-A3b" class="n L" transform="translate(621 246)"><rect width="43" height="5"/><text x="1.5" y="2.5">过程、结果</text></g>
<g id="s8-A3c" class="n L" transform="translate(621 253)"><rect width="43" height="5"/><text x="1.5" y="2.5">意义</text></g>
<g id="s8-B1" class="n" transform="translate(599 267)"><rect width="18" height="5"/><text x="9" y="2.5">萨顿假说</text></g>
<g id="s8-B2" class="n" transform="translate(599 280)"><rect width="19.5" height="14"/><text x="9.75" y="2.6" style="font-size:3.6px">基因位于染</text><text x="9.75" y="7" style="font-size:3.6px">色体上的实</text><text x="9.75" y="11.4" style="font-size:3.6px">验证据</text></g>
<g id="s8-B1a" class="n L" transform="translate(621 259.5)"><rect width="43" height="5"/><text x="1.5" y="2.5">内容</text></g>
<g id="s8-B1b" class="n L" transform="translate(621 266.5)"><rect width="43" height="5"/><text x="1.5" y="2.5">类比推理</text></g>
<g id="s8-B1c" class="n L" transform="translate(621 274)"><rect width="43" height="5"/><text x="1.5" y="2.5">依据</text></g>
<g id="s8-B2a" class="n L" transform="translate(621 283)"><rect width="43" height="5"/><text x="1.5" y="2.5">实验过程</text></g>
<g id="s8-B2b" class="n L" transform="translate(621 290)"><rect width="43" height="5"/><text x="1.5" y="2.5">实验结果</text></g>
<g id="s8-C1" class="n" transform="translate(599 295)"><rect width="14" height="5"/><text x="7" y="2.5">概念</text></g>
<g id="s8-C2" class="n" transform="translate(599 303)"><rect width="14" height="5"/><text x="7" y="2.5">实例</text></g>
<g id="s8-C2a" class="n L" transform="translate(621 297)"><rect width="43" height="5"/><text x="1.5" y="2.5">人类红绿色盲症</text></g>
<g id="s8-C2b" class="n L" transform="translate(621 305)"><rect width="43" height="5"/><text x="1.5" y="2.5">抗维生素D佝偻病</text></g>
</g>

<g id="sec9" class="s9">
<g id="s9-root" class="r"><rect x="37" y="398" width="6" height="22"/><text style="font-size:3.8px" x="40 40 40 40 40" y="401 405 409 413 417">基因的本质</text></g>
<g id="s9-A" class="n" transform="translate(50 372)"><rect width="22" height="10"/><text x="11" y="2.8">DNA是主要</text><text x="11" y="7.2">的遗传物质</text></g>
<g id="s9-B" class="n" transform="translate(50 405)"><rect width="22" height="10"/><text x="11" y="2.8">DNA分子</text><text x="11" y="7.2">的结构</text></g>
<g id="s9-C" class="n" transform="translate(50 430.5)"><rect width="22" height="5"/><text x="11" y="2.5">DNA的复制</text></g>
<g id="s9-D" class="n" transform="translate(50 445)"><rect width="22" height="15"/><text x="11" y="3.1">基因是有遗</text><text x="11" y="7.5">传效应的</text><text x="11" y="11.9">DNA片段</text></g>
<g id="s9-A1" class="n" transform="translate(78 357)"><rect width="22" height="10"/><text x="11" y="2.8">肺炎双球菌</text><text x="11" y="7.2">的转化实验</text></g>
<g id="s9-A2" class="n L" transform="translate(78 371)"><rect width="50" height="5"/><text x="1.5" y="2.5">噬菌体侵染细菌的实验</text></g>
<g id="s9-A3" class="n L" transform="translate(78 379)"><rect width="50" height="5"/><text x="1.5" y="2.5">RNA是遗传物质的证据</text></g>
<g id="s9-A4" class="n" transform="translate(78 388)"><rect width="22" height="10"/><text x="11" y="2.8">生物的遗</text><text x="11" y="7.2">传物质</text></g>
<g id="s9-A1a" class="n L" transform="translate(105 357)"><rect width="25" height="5"/><text x="1.5" y="2.5">体内转化实验</text></g>
<g id="s9-A1b" class="n L" transform="translate(105 363)"><rect width="25" height="5"/><text x="1.5" y="2.5">体外转化实验</text></g>
<g id="s9-A4a" class="n L" transform="translate(105 386)"><rect width="27" height="5"/><text x="1.2" y="2.5" style="font-size:3.15px">具细胞结构的生物</text></g>
<g id="s9-A4b" class="n L" transform="translate(105 394)"><rect width="27" height="5"/><text x="1.2" y="2.5" style="font-size:3.15px">非细胞结构的生物</text></g>
<g id="s9-B1" class="n" transform="translate(78 400)"><rect width="22" height="5"/><text x="11" y="2.5">发现历程</text></g>
<g id="s9-B2" class="n" transform="translate(78 407.5)"><rect width="22" height="5"/><text x="11" y="2.5">平面结构</text></g>
<g id="s9-B3" class="n" transform="translate(78 415)"><rect width="22" height="5"/><text x="11" y="2.5">空间结构</text></g>
<g id="s9-bp" class="n" transform="translate(105 412)"><rect width="24" height="16"/><text x="12" y="3.6">碱基互补配对</text><text x="12" y="8">原则及相关</text><text x="12" y="12.4">简单的计算</text></g>
<g id="s9-C1" class="n" transform="translate(78 424)"><rect width="22" height="5"/><text x="11" y="2.5">概念、时期</text></g>
<g id="s9-C2" class="n" transform="translate(78 431)"><rect width="22" height="5"/><text x="11" y="2.5">过程、特点</text></g>
<g id="s9-C3" class="n" transform="translate(78 439)"><rect width="22" height="5"/><text x="11" y="2.5">条件、意义</text></g>
<g id="s9-D1" class="n L" transform="translate(78 445)"><rect width="50" height="5"/><text x="1.5" y="2.5">基因、DNA、染色体的关系</text></g>
<g id="s9-D2" class="n L" transform="translate(78 451.5)"><rect width="50" height="5"/><text x="1.5" y="2.5">基因的本质</text></g>
<g id="s9-D3" class="n L" transform="translate(78 458)"><rect width="50" height="5"/><text x="1.5" y="2.5">DNA分子的特性</text></g>
</g>

<g id="sec10" class="s10">
<g id="s10-root" class="r"><rect x="203" y="420" width="6" height="20"/><text style="font-size:3.7px" x="206 206 206 206 206" y="422.4 426.2 430 433.8 437.6">基因的表达</text></g>
<g id="s10-A" class="n" transform="translate(213 396)"><rect width="22" height="10"/><text x="11" y="2.85">基因指导蛋</text><text x="11" y="7.15">白质的合成</text></g>
<g id="s10-B" class="n" transform="translate(213 451)"><rect width="22" height="10"/><text x="11" y="2.85">基因对性</text><text x="11" y="7.15">状的控制</text></g>
<g id="s10-T" class="n" transform="translate(239 371)"><rect width="17" height="10"/><text x="8.5" y="2.85">遗传信息</text><text x="8.5" y="7.15">的转录</text></g>
<g id="s10-L" class="n" transform="translate(239 422.5)"><rect width="17" height="10"/><text x="8.5" y="2.85">遗传信息</text><text x="8.5" y="7.15">的翻译</text></g>
<g id="s10-T1" class="n L" transform="translate(261 361)"><rect width="39" height="5"/><text x="1.5" y="2.5">RNA的结构与组成</text></g>
<g id="s10-T2" class="n L" transform="translate(261 367)"><rect width="39" height="5"/><text x="1.5" y="2.5">RNA的种类和作用</text></g>
<g id="s10-T3" class="n" transform="translate(261 385.5)"><rect width="15" height="5"/><text x="7.5" y="2.5">转录</text></g>
<g id="s10-Ta" class="n" transform="translate(282 373.5)"><rect width="18" height="4.5"/><text x="9" y="2.25">场所</text></g>
<g id="s10-Tb" class="n" transform="translate(282 379.5)"><rect width="18" height="4.5"/><text x="9" y="2.25">模板</text></g>
<g id="s10-Tc" class="n" transform="translate(282 385.5)"><rect width="18" height="4.5"/><text x="9" y="2.25">原料</text></g>
<g id="s10-Td" class="n" transform="translate(282 391.5)"><rect width="18" height="4.5"/><text x="9" y="2.25">酶</text></g>
<g id="s10-Te" class="n" transform="translate(282 397.5)"><rect width="18" height="4.5"/><text x="9" y="2.25">产物</text></g>
<g id="s10-L1" class="n" transform="translate(261 415.5)"><rect width="15" height="5"/><text x="7.5" y="2.5">翻译</text></g>
<g id="s10-La" class="n" transform="translate(282 403.5)"><rect width="18" height="4.5"/><text x="9" y="2.25">场所</text></g>
<g id="s10-Lb" class="n" transform="translate(282 409.5)"><rect width="18" height="4.5"/><text x="9" y="2.25">模板</text></g>
<g id="s10-Lc" class="n" transform="translate(282 415.5)"><rect width="18" height="4.5"/><text x="9" y="2.25">原料</text></g>
<g id="s10-Ld" class="n" transform="translate(282 421.5)"><rect width="18" height="4.5"/><text x="9" y="2.25">产物</text></g>
<g id="s10-Le" class="n" transform="translate(282 427.5)"><rect width="18" height="4.5"/><text x="9" y="2.25">条件</text></g>
<g id="s10-L2" class="n" transform="translate(261 432.5)"><rect width="16" height="10"/><text x="8" y="2.85">密码子与</text><text x="8" y="7.15">反密码子</text></g>
<g id="s10-L2a" class="n" transform="translate(282 433.5)"><rect width="18" height="4.5"/><text x="9" y="2.25">概念</text></g>
<g id="s10-L2b" class="n" transform="translate(282 439.5)"><rect width="18" height="4.5"/><text x="9" y="2.25">特点</text></g>
<g id="s10-B1" class="n" transform="translate(239 447)"><rect width="17" height="5"/><text x="8.5" y="2.5">中心法则</text></g>
<g id="s10-B2" class="n" transform="translate(239 454)"><rect width="17" height="14"/><text x="8.5" y="2.7">基因、蛋</text><text x="8.5" y="7">白质与性</text><text x="8.5" y="11.3">状的关系</text></g>
<g id="s10-B1a" class="n" transform="translate(261 443)"><rect width="10" height="5"/><text x="5" y="2.5" style="font-size:3.3px">内容</text></g>
<g id="s10-B1b" class="n" transform="translate(261 449)"><rect width="10" height="5"/><text x="5" y="2.5" style="font-size:3.3px">发展</text></g>
<g id="s10-B2a" class="n" transform="translate(261 455)"><rect width="16" height="9"/><text x="8" y="2.4">基因控制</text><text x="8" y="6.6">性状途径</text></g>
<g id="s10-B2b" class="n L" transform="translate(261 466)"><rect width="39" height="5"/><text x="1.5" y="2.5">基因与性状的关系</text></g>
<g id="s10-B2c" class="n" transform="translate(282 455)"><rect width="18" height="4.5"/><text x="9" y="2.25">间接控制</text></g>
<g id="s10-B2d" class="n" transform="translate(282 460.5)"><rect width="18" height="4.5"/><text x="9" y="2.25">直接控制</text></g>
</g>

<g id="sec11" class="s11">
<g id="s11-root" class="r"><rect x="387" y="388" width="6" height="39"/><text style="font-size:3.8px" x="390 390 390 390 390 390 390 390 390" y="391.5 395.5 399.5 403.5 407.5 411.5 415.5 419.5 423.5">基因突变及其他变异</text></g>
<g id="s11-A" class="n" transform="translate(397 368)"><rect width="13" height="10"/><text x="6.5" y="2.8">基因</text><text x="6.5" y="7.2">突变</text></g>
<g id="s11-B" class="n" transform="translate(397 382)"><rect width="13" height="10"/><text x="6.5" y="2.8">基因</text><text x="6.5" y="7.2">重组</text></g>
<g id="s11-C" class="n" transform="translate(397 401)"><rect width="13" height="10"/><text x="6.5" y="2.8">染色体</text><text x="6.5" y="7.2">变异</text></g>
<g id="s11-D" class="n" transform="translate(397 449)"><rect width="13" height="10"/><text x="6.5" y="2.8">人类遗</text><text x="6.5" y="7.2">传病</text></g>
<g id="s11-A1" class="n L" transform="translate(412 367)"><rect width="21" height="5"/><text x="1.5" y="2.5">实例、概念</text></g>
<g id="s11-A2" class="n L" transform="translate(412 374)"><rect width="30" height="5"/><text x="1.5" y="2.5">原因、特点、意义</text></g>
<g id="s11-B1" class="n L" transform="translate(412 384.5)"><rect width="30" height="5"/><text x="1.5" y="2.5">概念、类型、意义</text></g>
<g id="s11-C1" class="n" transform="translate(412 393.5)"><rect width="16" height="9"/><text x="8" y="2.3">染色体结</text><text x="8" y="6.7">构变异</text></g>
<g id="s11-C2" class="n" transform="translate(412 408)"><rect width="16" height="9"/><text x="8" y="2.3">染色体数</text><text x="8" y="6.7">目变异</text></g>
<g id="s11-C1a" class="n L" transform="translate(432 393)"><rect width="31" height="5"/><text x="1.5" y="2.5">类型</text></g>
<g id="s11-C1b" class="n L" transform="translate(432 399)"><rect width="31" height="5"/><text x="1.5" y="2.5">实例</text></g>
<g id="s11-C2a" class="n L" transform="translate(432 405.5)"><rect width="32" height="5"/><text x="1.5" y="2.5">染色体组的概念</text></g>
<g id="s11-C2b" class="n L" transform="translate(432 411.5)"><rect width="32" height="10"/><text x="1.2" y="2.8">单倍体、二倍体、</text><text x="1.2" y="7.2">多倍体</text></g>
<g id="s11-C2c" class="n L" transform="translate(432 423)"><rect width="32" height="11"/><text x="1.2" y="3.3">低温诱导植物染色</text><text x="1.2" y="7.7">体数目的变化</text></g>
<g id="s11-D1" class="n" transform="translate(412 444)"><rect width="13" height="5"/><text x="6.5" y="2.5">类型</text></g>
<g id="s11-D2" class="n L" transform="translate(412 460)"><rect width="55" height="5"/><text x="1.5" y="2.5">人类遗传病的监测和预防</text></g>
<g id="s11-D1a" class="n L" transform="translate(432 437)"><rect width="30" height="5"/><text x="1.5" y="2.5">单基因遗传病</text></g>
<g id="s11-D1b" class="n L" transform="translate(432 444)"><rect width="30" height="5"/><text x="1.5" y="2.5">多基因遗传病</text></g>
<g id="s11-D1c" class="n L" transform="translate(432 451)"><rect width="32" height="5"/><text x="1.2" y="2.5">染色体异常遗传病</text></g>
<g id="s11-D1d" class="n" transform="translate(468 441)"><rect width="16" height="5"/><text x="8" y="2.5" style="font-size:3.5px">遗传咨询</text></g>
<g id="s11-D1e" class="n" transform="translate(468 447.5)"><rect width="16" height="5"/><text x="8" y="2.5" style="font-size:3.5px">产前诊断</text></g>
</g>

<g id="sec12">
<g id="s12-root" class="r"><rect x="557" y="358" width="7" height="54"/><text x="560.5 560.5 560.5 560.5 560.5 560.5 560.5 560.5 560.5 560.5" y="362.5 367.5 372.5 377.5 382.5 387.5 392.5 397.5 402.5 407.5">从杂交育种到基因工程</text></g>
<g id="s12-A" class="n" transform="translate(573 337)"><rect width="22" height="20"/><text x="11" y="4.8">杂交育</text><text x="11" y="10">种与诱</text><text x="11" y="15.2">变育种</text></g>
<g id="s12-B" class="n" transform="translate(573 415)"><rect width="24" height="12"/><text x="12" y="3.4">基因工程</text><text x="12" y="8.6">及其应用</text></g>
<g id="s12-A1" class="n" transform="translate(602 333)"><rect width="23" height="6"/><text x="11.5" y="3">杂交育种</text></g>
<g id="s12-A2" class="n" transform="translate(602 354)"><rect width="23" height="6"/><text x="11.5" y="3">诱变育种</text></g>
<g id="s12-c1" class="n" transform="translate(632 323.5)"><rect width="16" height="6"/><text x="8" y="3">概念</text></g>
<g id="s12-c2" class="n" transform="translate(632 333.5)"><rect width="16" height="6"/><text x="8" y="3">原理</text></g>
<g id="s12-c3" class="n" transform="translate(632 343.5)"><rect width="16" height="6"/><text x="8" y="3">过程</text></g>
<g id="s12-c4" class="n" transform="translate(632 353.5)"><rect width="16" height="6"/><text x="8" y="3">意义</text></g>
<g id="s12-c5" class="n" transform="translate(632 363.5)"><rect width="16" height="6"/><text x="8" y="3">应用</text></g>
<g id="s12-B1" class="n" transform="translate(602 372.5)"><rect width="25" height="6"/><text x="12.5" y="3">概念、原理</text></g>
<g id="s12-B2" class="n" transform="translate(602 392.5)"><rect width="21" height="6"/><text x="10.5" y="3">工具</text></g>
<g id="s12-B3" class="n" transform="translate(602 430)"><rect width="21" height="6"/><text x="10.5" y="3">过程</text></g>
<g id="s12-B4" class="n" transform="translate(602 459)"><rect width="21" height="6"/><text x="10.5" y="3">应用</text></g>
<g id="s12-B2a" class="n L" transform="translate(630 382)"><rect width="58" height="6"/><text x="1.5" y="3">“剪刀”</text></g>
<g id="s12-B2b" class="n L" transform="translate(630 392)"><rect width="58" height="6"/><text x="1.5" y="3">“针线”</text></g>
<g id="s12-B2c" class="n L" transform="translate(630 402)"><rect width="58" height="6"/><text x="1.5" y="3">“运载体”</text></g>
<g id="s12-B3a" class="n L" transform="translate(630 413)"><rect width="58" height="6"/><text x="1.5" y="3">提取目的基因</text></g>
<g id="s12-B3b" class="n L" transform="translate(630 423)"><rect width="58" height="6"/><text x="1.5" y="3">目的基因与运载体结合</text></g>
<g id="s12-B3c" class="n L" transform="translate(630 434)"><rect width="58" height="6"/><text x="1.5" y="3">将目的基因导入受体细胞</text></g>
<g id="s12-B3d" class="n L" transform="translate(630 444)"><rect width="58" height="6"/><text x="1.5" y="3">目的基因的检测与鉴定</text></g>
<g id="s12-B4a" class="n L" transform="translate(630 454)"><rect width="58" height="6"/><text x="1.5" y="3">作物育种</text></g>
<g id="s12-B4b" class="n L" transform="translate(630 464)"><rect width="58" height="6"/><text x="1.5" y="3">药物研制</text></g>
</g>
</svg>
